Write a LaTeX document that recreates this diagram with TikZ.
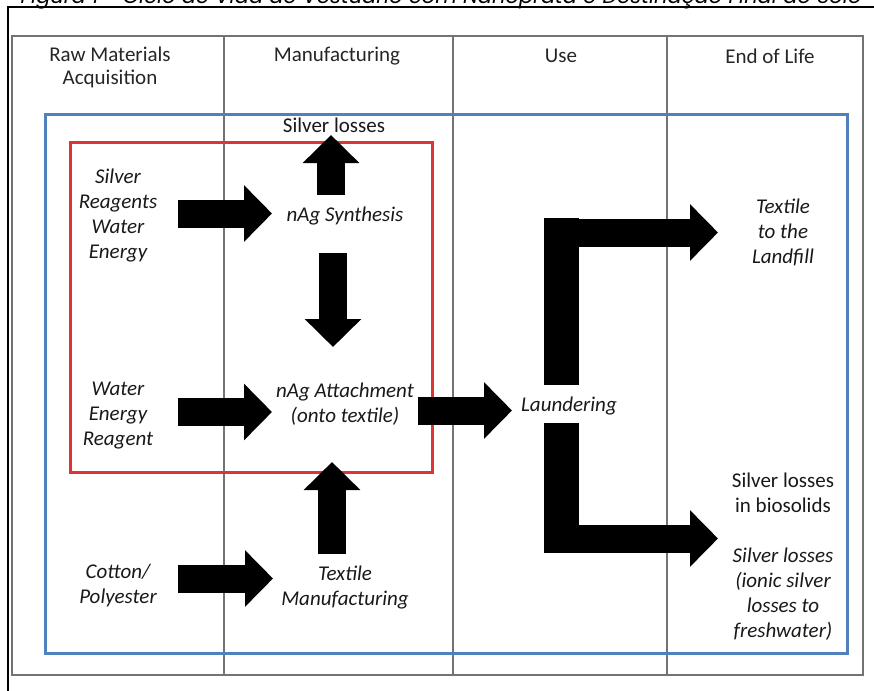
\documentclass[tikz,border=0pt]{standalone}
\usepackage{fontspec}
\setmainfont{Carlito}
\newfontfamily\capfont{Poppins}
\usetikzlibrary{arrows.meta}
\definecolor{boxblue}{RGB}{79,129,189}
\definecolor{boxred}{RGB}{222,52,52}
\begin{document}
\begin{tikzpicture}[x=1pt,y=-1pt,
  blk/.style={line width=28pt,-{Triangle[length=28pt,width=55pt]}},
  hdr/.style={font=\fontsize{21}{23}\selectfont, text=black!85, align=center, inner sep=0pt},
  lbl/.style={font=\fontsize{21}{25}\selectfont\itshape, text=black!90, align=center, inner sep=0pt},
  lblu/.style={font=\fontsize{21}{25}\selectfont, text=black!90, align=center, inner sep=0pt},
  gridline/.style={draw=black!55, line width=1.4pt},
  ]
\useasboundingbox (0,0) rectangle (874,690);
\clip (0,0) rectangle (874,690);
\fill[white] (0,0) rectangle (874,690);
% caption (cut off at the top, as in the reference)
\node[anchor=base, font=\capfont\itshape\fontsize{21}{21}\selectfont, inner sep=0pt] (cap) at (441,4) {Figura 1 - Ciclo de Vida de Vestuário com Nanoprata e Destinação Final do Solo};
% outer frame
\draw[line width=2pt] (8,695) -- (8,7) -- (880,7);
% table
\draw[gridline] (12,36) rectangle (863,675);
\draw[gridline] (224,36) -- (224,675) (453,36) -- (453,675) (667,36) -- (667,675);
% headers
\node[hdr] (h1) at (110,67) {Raw Materials\\Acquisition};
\node[hdr] (h2) at (337,56) {Manufacturing};
\node[hdr] (h3) at (561,56) {Use};
\node[hdr] (h4) at (770,56) {End of Life};
% boxes
\draw[boxblue, line width=3pt] (45,114) rectangle (847,653);
\draw[boxred, line width=3pt] (70,142) rectangle (432,472);
% labels
\node[lblu] (loss) at (334,125) {Silver losses};
\node[lbl] (in1) at (118,215.5) {Silver\\Reagents\\Water\\Energy};
\node[lbl] (syn) at (345,216) {nAg Synthesis};
\node[lbl] (in2) at (118,415.5) {Water\\Energy\\Reagent};
\node[lbl] (att) at (345,404) {nAg Attachment\\(onto textile)};
\node[lbl] (in3) at (118,585.5) {Cotton/\\Polyester};
\node[lbl] (tex) at (345,587.5) {Textile\\Manufacturing};
\node[lbl] (lau) at (569,406) {Laundering};
\node[lbl] (land) at (783,232) {Textile\\to the\\Landfill};
\node[lblu] (bio) at (783,492.5) {Silver losses\\in biosolids};
\node[lbl] (fw) at (783,594.5) {Silver losses\\(ionic silver\\losses to\\freshwater)};
% arrow end points
\coordinate (a1s) at (178,213.5); \coordinate (a1e) at (272,213.5);
\coordinate (a2s) at (178,412);   \coordinate (a2e) at (272,412);
\coordinate (a3s) at (178,578.5); \coordinate (a3e) at (273,578.5);
\coordinate (a4s) at (331,195);   \coordinate (a4e) at (331,135);
\coordinate (a5s) at (333,253);   \coordinate (a5e) at (333,347);
\coordinate (a6s) at (332,554);   \coordinate (a6e) at (332,462);
\coordinate (a7s) at (418,410.5); \coordinate (a7e) at (512,410.5);
\coordinate (u1) at (544,385);    \coordinate (u2) at (579,218);
\coordinate (a8s) at (544,232.5); \coordinate (a8e) at (718,232.5);
\coordinate (d1) at (544,423);    \coordinate (d2) at (579,552);
\coordinate (a9s) at (544,538.5); \coordinate (a9e) at (718,538.5);
% block arrows
\draw[blk] (a1s) -- (a1e);
\draw[blk] (a2s) -- (a2e);
\draw[blk] (a3s) -- (a3e);
\draw[blk] (a4s) -- (a4e);
\draw[blk] (a5s) -- (a5e);
\draw[blk] (a6s) -- (a6e);
\draw[blk] (a7s) -- (a7e);
\fill (u1) rectangle (u2);
\draw[blk] (a8s) -- (a8e);
\fill (d1) rectangle (d2);
\draw[blk] (a9s) -- (a9e);
\end{tikzpicture}
\end{document}
